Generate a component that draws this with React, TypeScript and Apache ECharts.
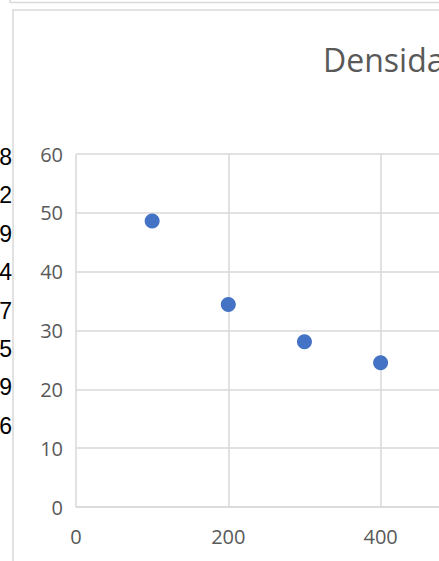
import React, { useEffect, useRef } from "react";
import * as echarts from "echarts";

const xValues = [100, 200, 300, 400];
const yValues = [48.6, 34.4, 28.1, 24.5];
const xMin = 0;
const xMax = 1000;
const xStep = 200;
const xLastVisibleLabel = 400;
const yMin = 0;
const yMax = 60;
const yStep = 10;
const titleText = "Densidad";
const cellDigits = ["8", "2", "9", "4", "7", "5", "9", "6"];

export default function App() {
  const ref = useRef<HTMLDivElement>(null);
  useEffect(() => {
    if (!ref.current) return;
    const chart = echarts.init(ref.current, undefined, { renderer: "svg" });
    const font = "Open Sans";
    const gray = "#d9d9d9";
    const graphic: any[] = [
      {
        type: "rect",
        z: -10,
        shape: { x: 13, y: 10, width: 1000, height: 700 },
        style: { fill: "#ffffff", stroke: gray, lineWidth: 1.5 },
      },
      {
        type: "line",
        z: -10,
        shape: { x1: 10, y1: 2.5, x2: 1000, y2: 2.5 },
        style: { stroke: gray, lineWidth: 1.5 },
      },
      {
        type: "line",
        z: -10,
        shape: { x1: 10, y1: 0, x2: 10, y2: 2.5 },
        style: { stroke: gray, lineWidth: 1.5 },
      },
      ...cellDigits.map((d, i) => ({
        type: "text",
        z: -11,
        x: 12,
        y: 157 + i * 38.4,
        style: {
          text: d,
          fill: "#000000",
          font: `23px 'Liberation Sans'`,
          align: "right",
          verticalAlign: "middle",
        },
      })),
    ];
    chart.setOption({
      animation: false,
      backgroundColor: "#ffffff",
      title: {
        text: titleText,
        left: 318,
        top: 38,
        textStyle: { fontFamily: font, fontSize: 32, fontWeight: "normal", color: "#595959" },
      },
      grid: { left: 76, top: 154, width: 761.5, height: 353 },
      xAxis: {
        type: "value",
        min: xMin,
        max: xMax,
        interval: xStep,
        axisLine: { show: true, lineStyle: { color: gray, width: 1.5 } },
        axisTick: { show: false },
        splitLine: { show: true, lineStyle: { color: gray, width: 1.5 } },
        axisLabel: {
          margin: 19,
          fontSize: 20,
          color: "#595959",
          fontFamily: font,
          formatter: (v: number) => (v <= xLastVisibleLabel ? String(v) : ""),
        },
      },
      yAxis: {
        type: "value",
        min: yMin,
        max: yMax,
        interval: yStep,
        axisLine: { show: false },
        axisTick: { show: false },
        splitLine: { show: true, lineStyle: { color: gray, width: 1.5 } },
        axisLabel: { margin: 13, fontSize: 20, color: "#595959", fontFamily: font },
      },
      series: [
        {
          type: "scatter",
          data: xValues.map((x, i) => [x, yValues[i]]),
          symbolSize: 15,
          itemStyle: { color: "#4472C4", opacity: 1 },
        },
      ],
      graphic,
    });
    return () => chart.dispose();
  }, []);
  return (
    <div
      style={{
        position: "fixed",
        left: 0,
        top: 0,
        width: 439,
        height: 561,
        overflow: "hidden",
        background: "#ffffff",
      }}
    >
      <div ref={ref} style={{ position: "absolute", left: 0, top: 0, width: 900, height: 561 }} />
    </div>
  );
}
